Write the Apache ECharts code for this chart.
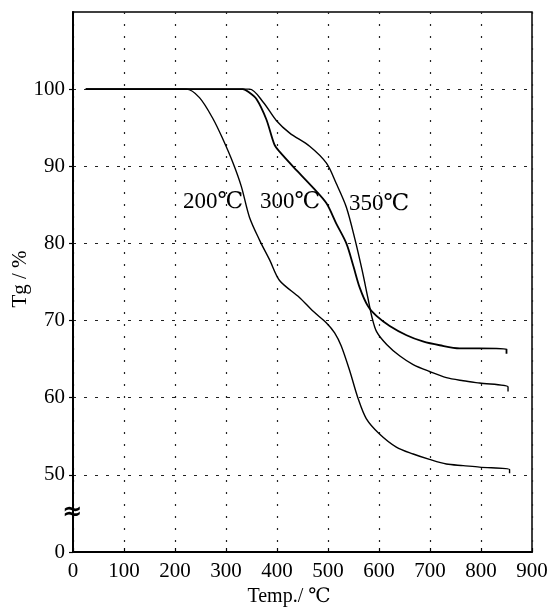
<!DOCTYPE html>
<html>
<head>
<meta charset="utf-8">
<script src="https://cdn.jsdelivr.net/npm/echarts@6/dist/echarts.min.js"></script>
<style>
html,body{margin:0;padding:0;background:#fff;}
#chart{width:552px;height:609px;}
</style>
</head>
<body>
<div id="chart"></div>
<script>
// ---- data ----
const seriesNames = ['200℃', '300℃', '350℃'];
const temp200 = [25,100,180,222,248,275,294,314,330,346,366,386,405,444,471,497,513,526,543,559,575,601,634,667,699,732,765,797,856,856];
const tg200   = [100,100,100,100,98.9,96.1,93.5,90.4,87.4,83.4,80.4,77.8,75.2,73.0,71.2,69.7,68.4,66.7,63.4,59.9,57.3,55.3,53.6,52.7,52.0,51.4,51.2,51.0,50.7,50.2];
const temp300 = [25,200,333,345,360,379,395,405,438,471,497,516,536,550,562,578,595,621,654,686,719,758,797,850,850];
const tg300   = [100,100,100,99.6,98.7,96.1,92.8,91.9,89.5,87.2,85.2,82.6,80.0,77.0,74.3,71.9,70.6,69.3,68.1,67.3,66.8,66.4,66.4,66.3,65.7];
const temp350 = [25,200,346,373,399,425,464,497,516,536,553,567,578,586,595,615,641,667,699,732,765,797,853,853];
const tg350   = [100,100,100,98.3,95.9,94.3,92.6,90.4,87.8,84.7,80.5,76.5,73.0,70.5,68.6,66.9,65.4,64.3,63.4,62.6,62.2,61.9,61.4,60.8];
const xTickLabels = ['0','100','200','300','400','500','600','700','800','900'];
// the y axis is broken: the bottom tick (drawn at 40) is labelled 0
const yTickValues = [40,50,60,70,80,90,100];
const yTickLabels = ['0','50','60','70','80','90','100'];

const zip = (xs, ys) => xs.map((x, i) => [x, ys[i]]);
const FONT = '"Liberation Serif", "DejaVu Serif", serif';

const chart = echarts.init(document.getElementById('chart'), null, {renderer: 'canvas'});

const lineSeries = (name, data, width) => ({
  name, type: 'line', data, showSymbol: false, smooth: 0.3,
  lineStyle: {color: '#000', width}, z: 3, animation: false
});

chart.setOption({
  backgroundColor: '#fff',
  animation: false,
  grid: {left: 73, right: 20, top: 12, bottom: 57, show: true, borderColor: '#000', borderWidth: 1.5, backgroundColor: 'transparent'},
  xAxis: {
    type: 'value', min: 0, max: 900, interval: 100,
    axisLine: {show: true, onZero: false, lineStyle: {color: '#000', width: 2}},
    axisTick: {show: true, inside: true, length: 4, lineStyle: {color: '#000', width: 1.2}},
    axisLabel: {color: '#000', fontFamily: FONT, fontSize: 21, margin: 9,
      formatter: v => xTickLabels[Math.round(v / 100)] ?? ''},
    splitLine: {show: true, lineStyle: {color: '#222', width: 1.2, type: [2, 10]}}
  },
  yAxis: {
    type: 'value', min: 40, max: 110, interval: 10,
    axisLine: {show: true, onZero: false, lineStyle: {color: '#000', width: 2}},
    axisTick: {show: true, inside: false, length: 4, lineStyle: {color: '#000', width: 1.2},
      customValues: yTickValues},
    axisLabel: {color: '#000', fontFamily: FONT, fontSize: 21, margin: 8,
      formatter: v => { const i = yTickValues.indexOf(v); return i >= 0 ? yTickLabels[i] : ''; }},
    splitLine: {show: true, lineStyle: {color: '#222', width: 1.2, type: [3, 8]}}
  },
  series: [
    lineSeries(seriesNames[0], zip(temp200, tg200), 1.4),
    lineSeries(seriesNames[1], zip(temp300, tg300), 1.8),
    lineSeries(seriesNames[2], zip(temp350, tg350), 1.4)
  ],
  graphic: [
    {type: 'text', left: 183, top: 190, style: {text: seriesNames[0], font: '23px ' + FONT, fill: '#000'}},
    {type: 'text', left: 260, top: 190, style: {text: seriesNames[1], font: '23px ' + FONT, fill: '#000'}},
    {type: 'text', left: 349, top: 192, style: {text: seriesNames[2], font: '23px ' + FONT, fill: '#000'}},
    {type: 'text', x: 289, y: 597, style: {text: 'Temp./ ℃', font: '20px ' + FONT, fill: '#000', align: 'center', verticalAlign: 'middle'}},
    {type: 'text', x: 20, y: 279, rotation: Math.PI / 2, style: {text: 'Tg / %', font: '21px ' + FONT, fill: '#000', align: 'center', verticalAlign: 'middle'}},
    {type: 'text', x: 72, y: 513, style: {text: '≈', font: 'bold 24px "DejaVu Sans", sans-serif', fill: '#000', align: 'center', verticalAlign: 'middle'}, z: 10}
  ]
});
</script>
</body>
</html>
